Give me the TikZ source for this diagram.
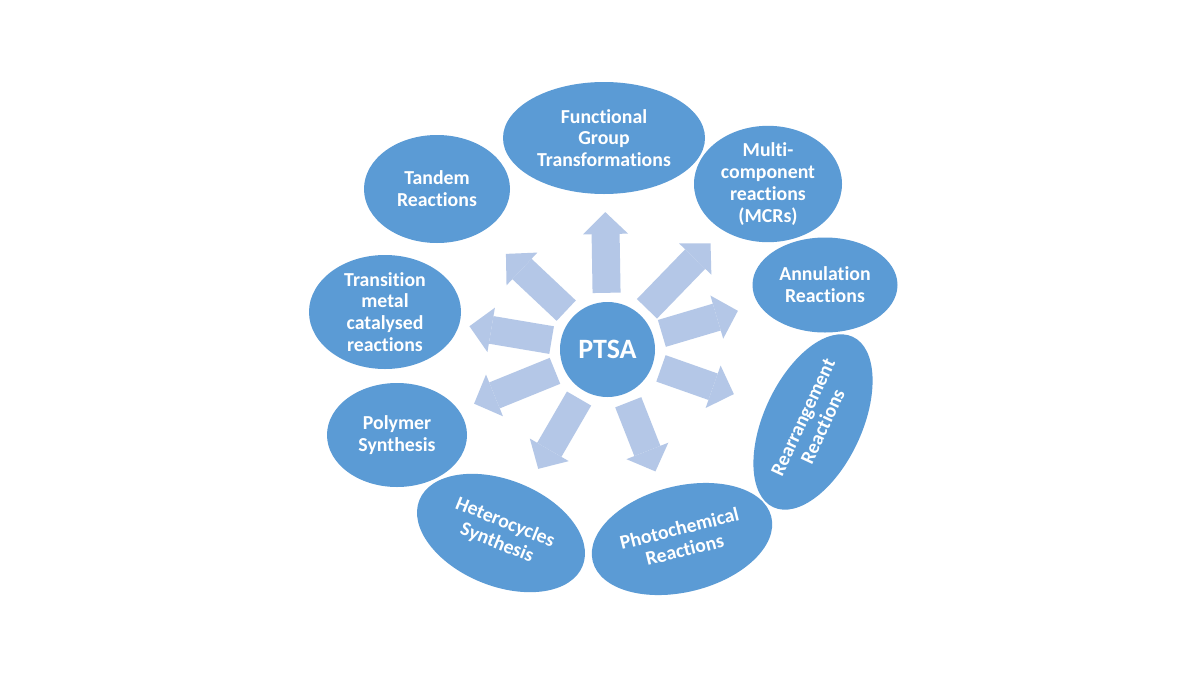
\documentclass[tikz,border=0pt]{standalone}
\usepackage{fontspec}
\setmainfont{Carlito}[Ligatures=NoCommon]
\usepackage{xcolor}
\definecolor{ovalblue}{HTML}{5B9BD5}
\definecolor{arrowblue}{HTML}{B4C7E7}
\usepackage{tikz}
\usetikzlibrary{
  arrows.meta,
  shapes.geometric,
  calc
}

\begin{document}
\begin{tikzpicture}[
  x=1pt, y=-1pt,
  oval/.style={ellipse, fill=ovalblue, inner sep=0pt, text=white, font=\fontsize{19.8}{21.8}\selectfont\bfseries, align=center},
  hub/.style={circle, fill=ovalblue, minimum size=95pt, inner sep=0pt, text=white, font=\fontsize{28}{32}\selectfont\bfseries},
  arr/.style={arrowblue, line width=28pt, shorten <=9pt, -{Triangle[width=45pt, length=22pt, line width=0pt]}},
]

\fill[white] (0,0) rectangle (1200,675);
\useasboundingbox (0,0) rectangle (1200,675);

\node[hub] (ptsa) at (607.5,349.5) {PTSA};

% Reaction types around the catalyst
\node[oval, minimum width=202pt, minimum height=112pt] (fgt) at (604,138) {Functional\\Group\\Transformations};
\node[oval, minimum width=146pt, minimum height=108pt] (tandem) at (437,189) {Tandem\\Reactions};
\node[oval, minimum width=148pt, minimum height=112pt] (mcr) at (768,184) {Multi-\\component\\reactions\\(MCRs)};
\node[oval, minimum width=145pt, minimum height=95pt] (annul) at (825,285) {Annulation\\Reactions};
\node[oval, minimum width=188pt, minimum height=98pt, rotate=65] (rearr) at (813,422) {Rearrangement\\Reactions};
\node[oval, minimum width=184pt, minimum height=106pt, rotate=14] (photo) at (682,539) {Photochemical\\Reactions};
\node[oval, minimum width=176pt, minimum height=106pt, rotate=-22] (hetero) at (501,533) {Heterocycles\\Synthesis};
\node[oval, minimum width=140pt, minimum height=104pt] (poly) at (397,435) {Polymer\\Synthesis};
\node[oval, minimum width=152pt, minimum height=114pt] (trans) at (385,312) {Transition\\metal\\catalysed\\reactions};

% Block arrows out of PTSA
\draw[arr] (ptsa) -- ($(ptsa)!137.5pt!(fgt)$);
\draw[arr] (ptsa) -- ($(ptsa)!139.5pt!(tandem)$);
\draw[arr] (ptsa) -- ($(ptsa)!148pt!(mcr)$);
\draw[arr] (ptsa) -- ($(ptsa)!136pt!(annul)$);
\draw[arr] (ptsa) -- ($(ptsa)!134pt!(rearr)$);
\draw[arr] (ptsa) -- ($(ptsa)!131pt!(photo)$);
\draw[arr] (ptsa) -- ($(ptsa)!138pt!(hetero)$);
\draw[arr] (ptsa) -- ($(ptsa)!144pt!(poly)$);
\draw[arr] (ptsa) -- ($(ptsa)!140pt!(trans)$);

\end{tikzpicture}
\end{document}
